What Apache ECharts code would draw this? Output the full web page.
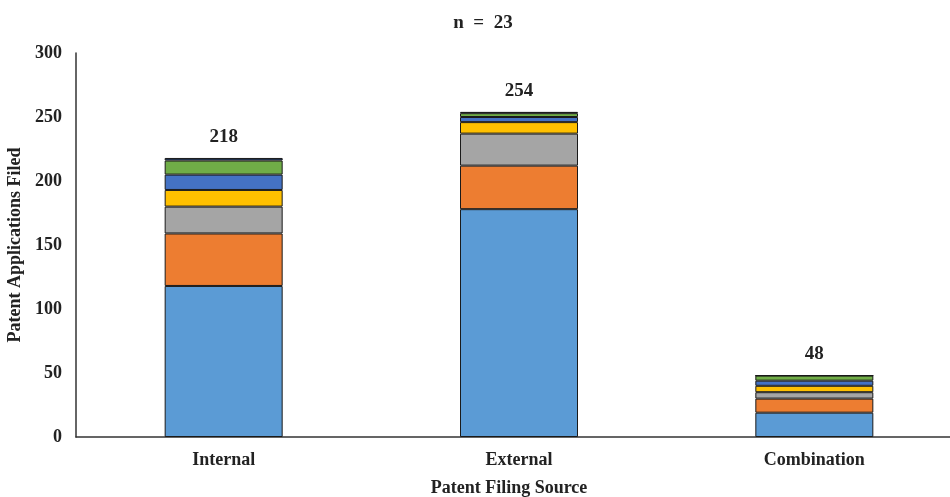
<!DOCTYPE html>
<html>
<head>
<meta charset="utf-8">
<script src="https://cdn.jsdelivr.net/npm/echarts@6/dist/echarts.min.js"></script>
<style>html,body{margin:0;padding:0;background:#fff;}#c{width:950px;height:497px;}</style>
</head>
<body>
<div id="c"></div>
<script>
const categories = ['Internal', 'External', 'Combination'];
const seg1 = [118, 178, 19];
const seg2 = [41, 34, 11];
const seg3 = [21, 25, 5];
const seg4 = [13, 9, 5];
const seg5 = [12, 4, 4];
const seg6 = [11, 3, 4];
const seg7 = [2, 1, 0];
const yTicks = [0, 50, 100, 150, 200, 250, 300];
const segColors = ['#5B9BD5', '#ED7D31', '#A5A5A5', '#FFC000', '#4472C4', '#70AD47', '#264478'];
const segs = [seg1, seg2, seg3, seg4, seg5, seg6, seg7];
const totals = categories.map((_, i) => segs.reduce((s, a) => s + a[i], 0));
const font = '"Liberation Serif", "Times New Roman", serif';

const series = segs.map((arr, k) => ({
  name: 'Series ' + (k + 1),
  type: 'bar',
  stack: 'total',
  barWidth: 118,
  data: arr,
  itemStyle: { color: segColors[k], borderColor: '#1a1a1a', borderWidth: 1 },
  label: k === segs.length - 1 ? {
    show: true, position: 'top', distance: 11,
    formatter: p => totals[p.dataIndex],
    fontFamily: font, fontWeight: 'bold', fontSize: 19, color: '#222'
  } : { show: false },
  emphasis: { disabled: true },
  animation: false
}));

const chart = echarts.init(document.getElementById('c'), null, { renderer: 'canvas' });
chart.setOption({
  animation: false,
  backgroundColor: '#fff',
  title: {
    text: 'n  =  23', left: 478, top: 9, textAlign: 'center',
    textStyle: { fontFamily: font, fontWeight: 'bold', fontSize: 19, color: '#222' }
  },
  grid: { left: 76, top: 53, width: 886, height: 384, containLabel: false, outerBoundsMode: 'none' },
  xAxis: {
    type: 'category', data: categories,
    name: 'Patent Filing Source', nameLocation: 'middle', nameGap: 42,
    nameTextStyle: { fontFamily: font, fontWeight: 'bold', fontSize: 18, color: '#222', padding: [0, 0, 0, -20] },
    axisLine: { lineStyle: { color: '#333', width: 1.5 } },
    axisTick: { show: false },
    axisLabel: { fontFamily: font, fontWeight: 'bold', fontSize: 18, color: '#222', margin: 14 }
  },
  yAxis: {
    type: 'value', min: 0, max: 300, interval: 50,
    name: 'Patent Applications Filed', nameLocation: 'middle', nameGap: 49,
    nameTextStyle: { fontFamily: font, fontWeight: 'bold', fontSize: 18, color: '#222' },
    axisLine: { show: true, lineStyle: { color: '#333', width: 1.5 } },
    axisTick: { show: false },
    splitLine: { show: false },
    axisLabel: { fontFamily: font, fontWeight: 'bold', fontSize: 18, color: '#222', margin: 14,
      formatter: v => yTicks.includes(v) ? String(v) : '' }
  },
  series: series
});
</script>
</body>
</html>
